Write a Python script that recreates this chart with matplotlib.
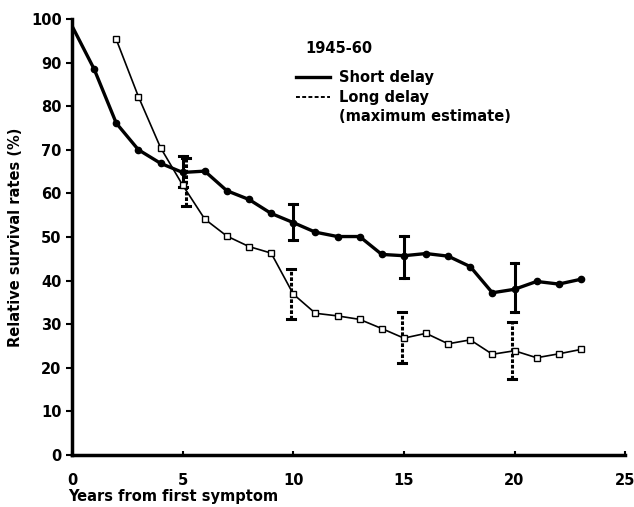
import numpy as np
import matplotlib
matplotlib.use('Agg')
import matplotlib.pyplot as plt
from matplotlib.lines import Line2D

years_short = np.arange(0, 24)
short_delay = [98.4, 88.5, 76.1, 70.0, 66.9, 64.8, 65.1, 60.6, 58.6, 55.4, 53.3, 51.1,
               50.1, 50.1, 46.0, 45.7, 46.2, 45.6, 43.2, 37.2, 38.0, 39.8, 39.2, 40.3]
years_long = np.arange(2, 24)
long_delay = [95.3, 82.2, 70.5, 61.9, 54.1, 50.2, 47.8, 46.3, 36.9, 32.5, 31.9, 31.1,
              29.0, 26.8, 27.9, 25.5, 26.4, 23.1, 23.9, 22.3, 23.2, 24.2]

# error bars (year, low, high)
err_years = [5, 10, 15, 20]
short_err_lo = [61.5, 49.3, 40.7, 32.9]
short_err_hi = [68.6, 57.6, 50.2, 44.0]
long_err_lo = [57.1, 31.2, 21.2, 17.4]
long_err_hi = [68.0, 42.6, 32.9, 30.4]

plt.rcParams['font.family'] = 'DejaVu Sans'
plt.rcParams['font.weight'] = 'bold'

fig = plt.figure(figsize=(6.34, 5.07), dpi=100)
ax = fig.add_axes([0.1136, 0.1026, 0.8724, 0.86])

# short delay line (no marker at x=0)
ax.plot(years_short, short_delay, color='black', lw=2.4, zorder=3)
ax.plot(years_short[1:], short_delay[1:], 'o', color='black', ms=4.5, zorder=4)
ax.plot(years_long, long_delay, color='black', lw=1.2, marker='s', ms=4,
        mfc='white', mec='black', mew=1.0, zorder=3)

for i, yr in enumerate(err_years):
    ax.plot([yr, yr], [short_err_lo[i], short_err_hi[i]], color='black', lw=2.2, zorder=2)
    for v in (short_err_lo[i], short_err_hi[i]):
        ax.plot([yr - 0.18, yr + 0.18], [v, v], color='black', lw=2.2, zorder=2)
    yl = yr - 0.1 if yr != 5 else yr + 0.15
    ax.plot([yl, yl], [long_err_lo[i], long_err_hi[i]], color='black', lw=2.2,
            ls=(0, (1.2, 0.6)), zorder=2)
    for v in (long_err_lo[i], long_err_hi[i]):
        ax.plot([yl - 0.18, yl + 0.18], [v, v], color='black', lw=2.2, zorder=2)

ax.set_xlim(0, 25)
ax.set_ylim(0, 100)
ax.set_xticks(range(0, 26, 5))
ax.set_yticks(range(0, 101, 10))
ax.spines['top'].set_visible(False)
ax.spines['right'].set_visible(False)
ax.spines['left'].set_linewidth(2.5)
ax.spines['bottom'].set_linewidth(2.5)
ax.tick_params(axis='y', direction='out', length=4, width=1.5, labelsize=10.5)
ax.tick_params(axis='x', direction='in', length=3, width=1.5, labelsize=10.5, pad=13)
for lab in ax.get_xticklabels() + ax.get_yticklabels():
    lab.set_fontweight('bold')

ax.set_ylabel('Relative survival rates (%)', fontsize=10.5, fontweight='bold', labelpad=6)
fig.text(0.107, 0.006, 'Years from first symptom', fontsize=10.5, fontweight='bold',
         ha='left', va='bottom')

# legend
fig.text(0.481, 0.905, '1945-60', fontsize=10.5, fontweight='bold', ha='left', va='center')
fig.add_artist(Line2D([0.467, 0.521], [0.848, 0.848], color='black', lw=2.4))
fig.add_artist(Line2D([0.467, 0.521], [0.808, 0.808], color='black', lw=1.4, ls=(0, (2, 1.2))))
fig.text(0.535, 0.848, 'Short delay', fontsize=10.5, fontweight='bold', ha='left', va='center')
fig.text(0.535, 0.808, 'Long delay', fontsize=10.5, fontweight='bold', ha='left', va='center')
fig.text(0.535, 0.770, '(maximum estimate)', fontsize=10.5, fontweight='bold', ha='left', va='center')

fig.savefig('out.png', dpi=100)
